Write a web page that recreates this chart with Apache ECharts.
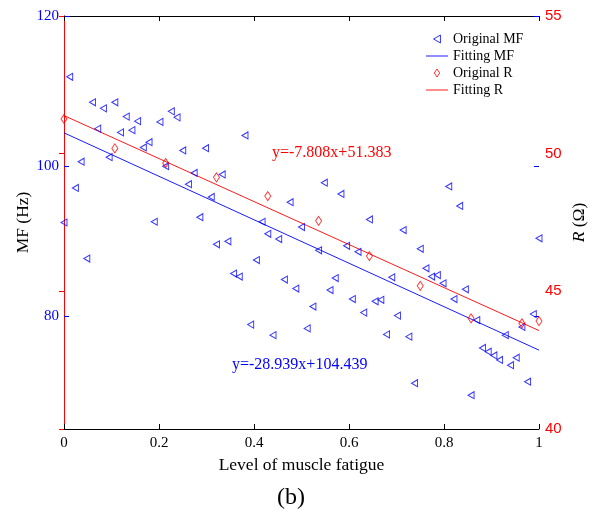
<!DOCTYPE html>
<html>
<head>
<meta charset="utf-8">
<script src="https://cdn.jsdelivr.net/npm/echarts@6/dist/echarts.min.js"></script>
<style>html,body{margin:0;padding:0;background:#fff}#c{width:596px;height:518px}</style>
</head>
<body>
<div id="c"></div>
<script>
// ---- data ----
const fatigueMF = [0,0.012,0.024,0.036,0.048,0.060,0.071,0.083,0.095,0.107,
  0.119,0.131,0.143,0.155,0.167,0.179,0.190,0.202,0.214,0.226,
  0.238,0.250,0.262,0.274,0.286,0.298,0.310,0.321,0.333,0.345,
  0.357,0.369,0.381,0.393,0.405,0.417,0.429,0.440,0.452,0.464,
  0.476,0.488,0.500,0.512,0.524,0.536,0.548,0.560,0.571,0.583,
  0.595,0.607,0.619,0.631,0.643,0.655,0.667,0.679,0.690,0.702,
  0.714,0.726,0.738,0.750,0.762,0.774,0.786,0.798,0.810,0.821,
  0.833,0.845,0.857,0.869,0.881,0.893,0.905,0.917,0.929,0.940,
  0.952,0.964,0.976,0.988,1];
const originalMF = [92.5,111.9,97.1,100.6,87.7,108.5,105.0,107.7,101.2,108.5,
  104.5,106.6,104.8,106.0,102.5,103.2,92.6,105.9,100.0,107.3,
  106.5,102.1,97.6,99.1,93.2,102.4,95.9,89.6,98.9,90.0,
  85.7,85.3,104.1,78.9,87.5,92.6,91.0,77.5,90.3,84.9,
  95.2,83.7,91.9,78.4,81.3,88.8,97.8,83.5,85.1,96.3,
  89.4,82.3,88.6,80.5,92.9,82.0,82.2,77.6,85.2,80.1,
  91.5,77.3,71.1,89.0,86.4,85.3,85.5,84.4,97.3,82.3,
  94.7,83.6,69.5,79.5,75.8,75.3,74.8,74.2,77.5,73.5,
  74.5,78.6,71.3,80.3,90.4];
const fatigueR = [0,0.107,0.214,0.321,0.429,0.536,0.643,0.750,0.857,0.964,1];
const originalR = [51.26,50.19,49.66,49.14,48.46,47.56,46.28,45.20,44.02,43.84,43.92];
const fitMFx = [0,1];
const fitMFy = [104.439,75.500];
const fitRx = [0,1];
const fitRy = [51.383,43.575];
const xTicks = [0,0.2,0.4,0.6,0.8,1];
const mfTicks = [80,100,120];
const rTicks = [40,45,50,55];
const eqMF = 'y=-28.939x+104.439';
const eqR = 'y=-7.808x+51.383';

const SERIF = '"Liberation Serif","Times New Roman",serif';
const SANS = '"Liberation Sans",Arial,sans-serif';
const BLUE = '#0000ff', RED = '#ff0000';
const triLeft = 'path://M10,0 L10,10 L0,5 Z';
const triIcon = 'path://M6,0 L6,7 L0,3.5 Z';
const diaIcon = 'path://M3,0 L6,4.5 L3,9 L0,4.5 Z';
const lineIcon = 'path://M0,0 L25,0 L25,1 L0,1 Z';
const HOLLOW = 'rgba(0,0,0,0)';
const TITLE_FS = 17.5;

const zip = (a,b) => a.map((v,i)=>[v,b[i]]);

const chart = echarts.init(document.getElementById('c'), null, {renderer:'canvas'});
chart.setOption({
  animation: false,
  backgroundColor: '#fff',
  grid: {left: 64, right: 57, top: 16, bottom: 89, containLabel: false},
  legend: {
    orient: 'vertical', left: 421, top: 27,
    itemWidth: 22, itemHeight: 8, itemGap: 3,
    symbolKeepAspect: true,
    textStyle: {fontFamily: SERIF, fontSize: 14, color: '#000'},
    data: [
      {name: 'Original MF', icon: triIcon, itemStyle: {color: HOLLOW, borderColor: BLUE, borderWidth: 1}},
      {name: 'Fitting MF', icon: lineIcon, itemStyle: {color: BLUE, borderWidth: 0}},
      {name: 'Original R', icon: diaIcon, itemStyle: {color: HOLLOW, borderColor: RED, borderWidth: 1}},
      {name: 'Fitting R', icon: lineIcon, itemStyle: {color: RED, borderWidth: 0}}
    ]
  },
  xAxis: [{
    type: 'value', min: 0, max: 1, interval: 0.2, position: 'bottom',
    name: 'Level of muscle fatigue', nameLocation: 'middle', nameGap: 27,
    nameMoveOverlap: false,
    nameTextStyle: {fontFamily: SERIF, fontSize: TITLE_FS, color: '#000'},
    axisLine: {show: true, lineStyle: {color: '#000', width: 1}},
    axisTick: {show: true, inside: true, length: 5, lineStyle: {color: '#000'}},
    axisLabel: {fontFamily: SERIF, fontSize: 15, color: '#000', margin: 7,
      customValues: xTicks},
    splitLine: {show: false}
  },{
    type: 'value', min: 0, max: 1, interval: 0.2, position: 'top',
    axisLine: {show: true, lineStyle: {color: '#000', width: 1}},
    axisTick: {show: true, inside: true, length: 5, lineStyle: {color: '#000'}},
    axisLabel: {show: false},
    splitLine: {show: false}
  }],
  yAxis: [{
    type: 'value', min: 65, max: 120, position: 'left',
    name: 'MF (Hz)', nameLocation: 'middle', nameGap: 32,
    nameMoveOverlap: false,
    nameTextStyle: {fontFamily: SERIF, fontSize: TITLE_FS, color: '#000'},
    axisLine: {show: true, lineStyle: {color: BLUE, width: 1}},
    axisTick: {show: true, inside: true, length: 5, lineStyle: {color: BLUE}, customValues: mfTicks},
    axisLabel: {fontFamily: SERIF, fontSize: 15, color: BLUE, margin: 5, customValues: mfTicks},
    splitLine: {show: false}
  },{
    type: 'value', min: 40, max: 55, interval: 5, position: 'right',
    name: '{i|R} (Ω)', nameLocation: 'middle', nameGap: 31,
    nameMoveOverlap: false,
    nameTextStyle: {fontFamily: SERIF, fontSize: TITLE_FS, color: '#000',
      rich: {i: {fontStyle: 'italic', fontFamily: SERIF, fontSize: TITLE_FS, color: '#000'}}},
    axisLine: {show: true, lineStyle: {color: RED, width: 1}},
    axisTick: {show: true, inside: true, length: 5, lineStyle: {color: RED}, customValues: rTicks},
    axisLabel: {fontFamily: SANS, fontSize: 15, color: RED, margin: 6, customValues: rTicks},
    splitLine: {show: false}
  },{
    type: 'value', min: 65, max: 120, position: 'right',
    axisLine: {show: false},
    axisTick: {show: true, inside: true, length: 5, lineStyle: {color: BLUE}, customValues: mfTicks},
    axisLabel: {show: false},
    splitLine: {show: false}
  }],
  series: [{
    name: 'Original MF', type: 'scatter', xAxisIndex: 0, yAxisIndex: 0,
    symbol: triLeft, symbolSize: [6,7],
    itemStyle: {color: HOLLOW, borderColor: BLUE, borderWidth: 1},
    data: zip(fatigueMF, originalMF), z: 3
  },{
    name: 'Fitting MF', type: 'line', xAxisIndex: 0, yAxisIndex: 0,
    symbol: 'none', lineStyle: {color: BLUE, width: 0.9},
    itemStyle: {color: BLUE},
    data: zip(fitMFx, fitMFy), z: 2
  },{
    name: 'Original R', type: 'scatter', xAxisIndex: 0, yAxisIndex: 1,
    symbol: 'diamond', symbolSize: [6,9],
    itemStyle: {color: HOLLOW, borderColor: RED, borderWidth: 1},
    data: zip(fatigueR, originalR), z: 3
  },{
    name: 'Fitting R', type: 'line', xAxisIndex: 0, yAxisIndex: 1,
    symbol: 'none', lineStyle: {color: RED, width: 0.9},
    itemStyle: {color: RED},
    data: zip(fitRx, fitRy), z: 2
  }],
  graphic: [
    {type: 'text', x: 272, y: 153, style: {text: eqR, fill: RED, fontFamily: SERIF, fontSize: 16, verticalAlign: 'middle'}},
    {type: 'text', x: 232, y: 365, style: {text: eqMF, fill: BLUE, fontFamily: SERIF, fontSize: 16, verticalAlign: 'middle'}},
    {type: 'text', x: 291, y: 498, style: {text: '(b)', fill: '#000', fontFamily: SERIF, fontSize: 24, align: 'center', verticalAlign: 'middle'}}
  ]
});
</script>
</body>
</html>
